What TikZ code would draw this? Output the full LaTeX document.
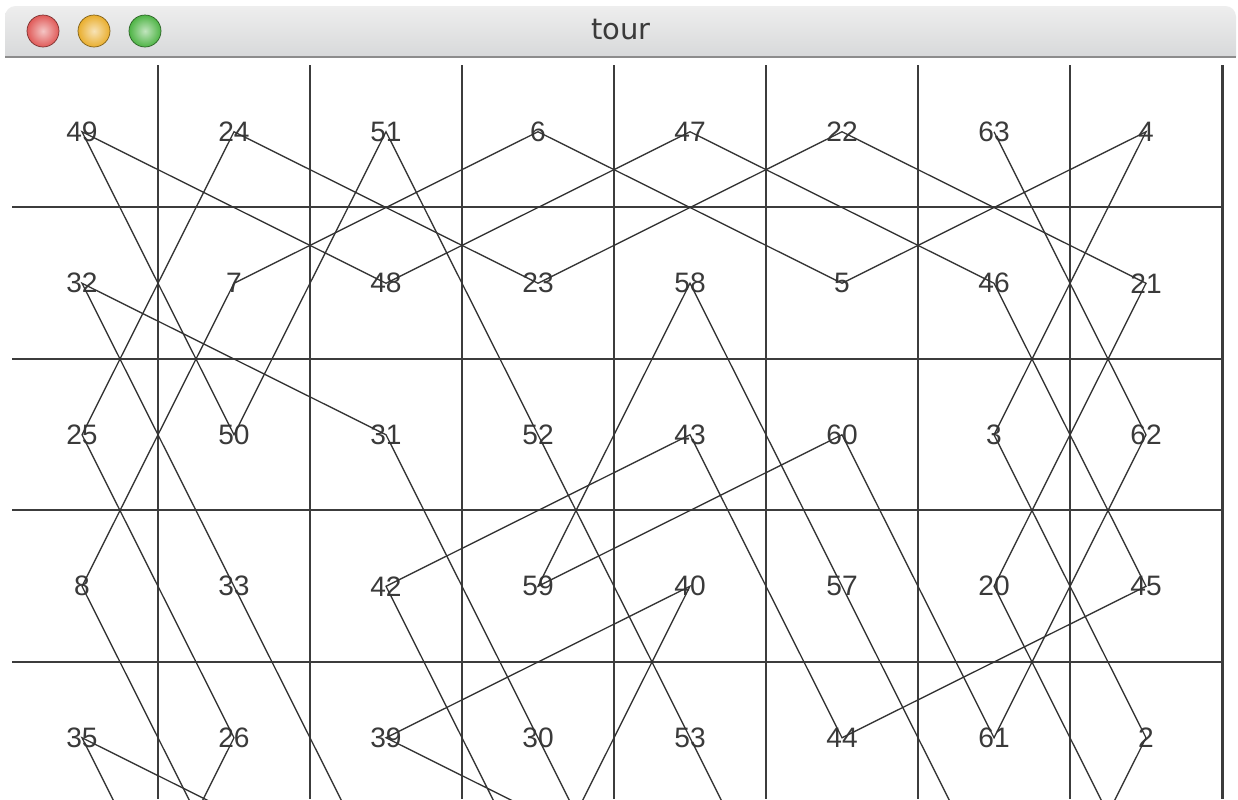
\documentclass[tikz,border=0pt]{standalone}
\usepackage{fontspec}
\setmainfont{Liberation Sans}
\newfontfamily\titlefont{DejaVu Sans}
\definecolor{barlight}{HTML}{EEEEEE}
\definecolor{bardark}{HTML}{CDCFD1}
\definecolor{barline}{HTML}{8C8C8C}
\definecolor{gridgray}{HTML}{3C3C3C}
\definecolor{movegray}{HTML}{333333}
\definecolor{numgray}{HTML}{3A3A3A}
\definecolor{btnred}{HTML}{E05A58}
\definecolor{btnyellow}{HTML}{E9AE2E}
\definecolor{btngreen}{HTML}{4EB445}
\begin{document}
\begin{tikzpicture}[x=0.02cm,y=-0.02cm,
    num/.style={font=\fontsize{16}{16}\selectfont, text=numgray, inner sep=0pt},
    gridline/.style={draw=gridgray, line width=1.1pt},
    move/.style={draw=movegray, line width=0.75pt}]
  \useasboundingbox (0,0) rectangle (1238,799);
  \clip (0,0) rectangle (1238,799);
  % window title bar
  \shade[top color=barlight, bottom color=bardark, rounded corners=6pt] (5,6) rectangle (1236,80);
  \fill[white] (0,57) rectangle (1238,799);
  \draw[barline, line width=0.8pt] (5,57) -- (1236,57);
  \shade[inner color=btnred!35!white, outer color=btnred, draw=btnred!55!black] (43,31) circle (16);
  \shade[inner color=btnyellow!35!white, outer color=btnyellow, draw=btnyellow!55!black] (94,31) circle (16);
  \shade[inner color=btngreen!35!white, outer color=btngreen, draw=btngreen!55!black] (145,31) circle (16);
  \node[font=\titlefont\fontsize{16.5}{16.5}\selectfont, text=numgray] (title) at (621,30) {tour};
  % board
  \foreach \i in {1,...,7}
    \draw[gridline] ({6+152*\i},65) -- ({6+152*\i},799);
  \draw[gridline, line width=1.7pt] (1222,65) -- (1222,799);
  \foreach \y in {207,359,510,662}
    \draw[gridline] (12,\y) -- (1222,\y);
  % numbered squares
  \foreach \row [count=\r] in {{49,24,51,6,47,22,63,4},{32,7,48,23,58,5,46,21},
      {25,50,31,52,43,60,3,62},{8,33,42,59,40,57,20,45},{35,26,39,30,53,44,61,2}}
    \foreach \n [count=\c] in \row
      \node[num] (n\n) at ({82+152*(\c-1)},{131.75+151.5*(\r-1)}) {\n};
  % squares below the window edge
  \coordinate (n1) at (994,1040.75);
  \coordinate (n9) at (234,889.25);
  \coordinate (n19) at (1146,889.25);
  \coordinate (n27) at (82,1040.75);
  \coordinate (n29) at (690,1040.75);
  \coordinate (n34) at (386,889.25);
  \coordinate (n36) at (234,1040.75);
  \coordinate (n38) at (690,889.25);
  \coordinate (n41) at (538,889.25);
  \coordinate (n54) at (842,1040.75);
  \coordinate (n56) at (994,889.25);
  % knight moves
  \draw[move] (n1.center) \foreach \k in {2,...,9} {-- (n\k.center)};
  \draw[move] (n19.center) \foreach \k in {20,...,27} {-- (n\k.center)};
  \draw[move] (n29.center) \foreach \k in {30,...,36} {-- (n\k.center)};
  \draw[move] (n38.center) \foreach \k in {39,...,54} {-- (n\k.center)};
  \draw[move] (n56.center) \foreach \k in {57,...,63} {-- (n\k.center)};
\end{tikzpicture}
\end{document}
